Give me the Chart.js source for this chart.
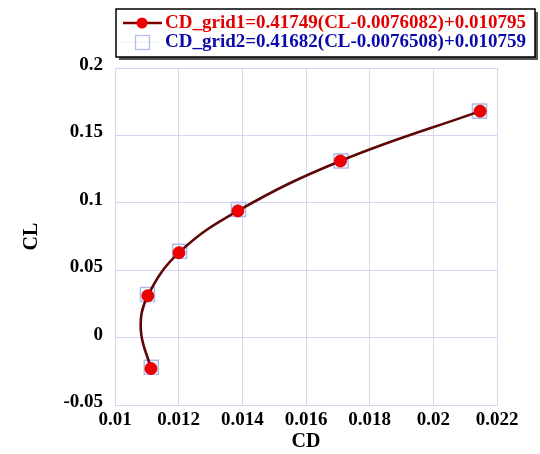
<!DOCTYPE html>
<html>
<head>
<meta charset="utf-8">
<script src="https://cdn.jsdelivr.net/npm/chart.js@4/dist/chart.umd.min.js"></script>
<style>
  body { margin: 0; background: #fff; }
  #wrap { width: 540px; height: 454px; }
</style>
</head>
<body>
<div id="wrap"><canvas id="polarChart" width="540" height="454"></canvas></div>
<script>
// drag polar, two grids
const grid1CD = [0.01113, 0.01103, 0.01201, 0.01386, 0.01708, 0.02147];
const grid1CL = [-0.023, 0.031, 0.063, 0.094, 0.131, 0.168];
const grid2CD = [0.01114, 0.01102, 0.01203, 0.01388, 0.01710, 0.02145];
const grid2CL = [-0.022, 0.032, 0.064, 0.095, 0.131, 0.168];
// fitted curve
const fitCD = [0.01113, 0.01081, 0.01103, 0.01201, 0.01386, 0.01708, 0.02147];
const fitCL = [-0.023, 0.006, 0.031, 0.063, 0.094, 0.131, 0.168];

const xTicks = [0.01, 0.012, 0.014, 0.016, 0.018, 0.02, 0.022];
const yTicks = [-0.05, 0, 0.05, 0.1, 0.15, 0.2];

const legendLabels = [
  'CD_grid1=0.41749(CL-0.0076082)+0.010795',
  'CD_grid2=0.41682(CL-0.0076508)+0.010759'
];

const FONT = '"Liberation Serif", "Times New Roman", serif';
const GRID = '#d6d6f4';

function pts(xs, ys) {
  return xs.map((x, i) => ({ x: x, y: ys[i] }));
}

function fmt(v) {
  return String(Number(v.toFixed(4)));
}

// boxed legend in the top strip
const boxLegend = {
  id: 'boxLegend',
  afterDraw(chart) {
    const c = chart.ctx;
    const x0 = 116, y0 = 9, w = 419, h = 48;
    c.save();
    c.fillStyle = '#555';
    c.fillRect(x0 + 3, y0 + 3, w, h);
    c.fillStyle = '#fff';
    c.fillRect(x0, y0, w, h);
    c.strokeStyle = '#000';
    c.lineWidth = 1.5;
    c.strokeRect(x0, y0, w, h);

    // grid1: line + filled circle
    c.strokeStyle = '#7a0000';
    c.lineWidth = 2.5;
    c.beginPath();
    c.moveTo(123, 23);
    c.lineTo(162, 23);
    c.stroke();
    c.fillStyle = '#ee0000';
    c.beginPath();
    c.arc(142, 23, 5.5, 0, Math.PI * 2);
    c.fill();

    // grid2: dotted line + open square
    c.strokeStyle = '#c4cdf0';
    c.lineWidth = 1;
    c.setLineDash([1, 2]);
    c.beginPath();
    c.moveTo(123, 42);
    c.lineTo(162, 42);
    c.stroke();
    c.setLineDash([]);
    c.strokeStyle = '#b0bde9';
    c.lineWidth = 1.3;
    c.strokeRect(135.5, 35.5, 14, 14);

    c.font = 'bold 19px ' + FONT;
    c.textBaseline = 'middle';
    c.textAlign = 'left';
    c.fillStyle = '#e00000';
    c.fillText(legendLabels[0], 165, 23);
    c.fillStyle = '#0a0aa8';
    c.fillText(legendLabels[1], 165, 42);
    c.restore();
  }
};

new Chart(document.getElementById('polarChart'), {
  type: 'scatter',
  data: {
    datasets: [
      {
        label: legendLabels[0],
        data: pts(grid1CD, grid1CL),
        showLine: false,
        pointStyle: 'circle',
        pointRadius: 6,
        pointBackgroundColor: '#ee0000',
        pointBorderColor: '#e00000',
        pointBorderWidth: 1
      },
      {
        label: 'fit',
        data: pts(fitCD, fitCL),
        showLine: true,
        tension: 0.4,
        borderColor: '#5e0606',
        borderWidth: 2.6,
        pointRadius: 0
      },
      {
        label: legendLabels[1],
        data: pts(grid2CD, grid2CL),
        showLine: false,
        pointStyle: 'rect',
        pointRadius: 10,
        pointBackgroundColor: 'rgba(225,232,250,0.35)',
        pointBorderColor: '#aebbe8',
        pointBorderWidth: 1.4
      }
    ]
  },
  options: {
    responsive: false,
    animation: false,
    layout: { padding: { top: 68, right: 43, left: 0, bottom: 0 } },
    plugins: { legend: { display: false }, tooltip: { enabled: false } },
    scales: {
      x: {
        type: 'linear',
        min: 0.01,
        max: 0.022,
        afterBuildTicks: s => { s.ticks = xTicks.map(v => ({ value: v })); },
        afterFit: s => { s.height = 49; },
        grid: { color: GRID, drawTicks: false },
        border: { color: GRID },
        ticks: {
          padding: 4,
          color: '#000',
          font: { family: FONT, size: 19, weight: 'bold' },
          maxRotation: 0,
          callback: v => fmt(v)
        },
        title: {
          display: true,
          text: 'CD',
          color: '#000',
          font: { family: FONT, size: 20, weight: 'bold' },
          padding: { top: 0, bottom: 0 }
        }
      },
      y: {
        type: 'linear',
        min: -0.05,
        max: 0.2,
        afterBuildTicks: s => { s.ticks = yTicks.map(v => ({ value: v })); },
        afterFit: s => { s.width = 115; },
        grid: { color: GRID, drawTicks: false },
        border: { color: GRID },
        ticks: {
          padding: 12,
          labelOffset: -3,
          color: '#000',
          font: { family: FONT, size: 19, weight: 'bold' },
          callback: v => fmt(v)
        },
        title: {
          display: true,
          text: 'CL',
          color: '#000',
          font: { family: FONT, size: 20, weight: 'bold' },
          padding: { top: 20, bottom: 0 }
        }
      }
    }
  },
  plugins: [boxLegend]
});
</script>
</body>
</html>
